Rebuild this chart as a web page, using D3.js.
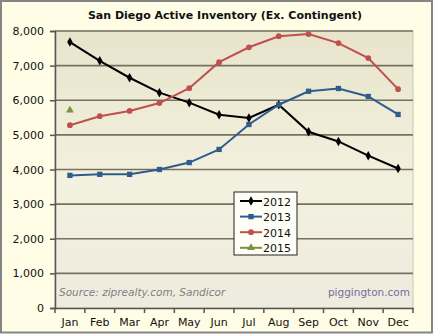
<!DOCTYPE html>
<html>
<head>
<meta charset="utf-8">
<script src="https://cdn.jsdelivr.net/npm/d3@7"></script>
<style>
  body { margin: 0; background: #fff; }
  svg { display: block; font-family: "DejaVu Sans", Verdana, sans-serif; }
</style>
</head>
<body>
<svg id="chart" width="433" height="334"></svg>
<script>
const months = ["Jan", "Feb", "Mar", "Apr", "May", "Jun", "Jul", "Aug", "Sep", "Oct", "Nov", "Dec"];
const yTicks = [0, 1000, 2000, 3000, 4000, 5000, 6000, 7000, 8000];

const inv2012 = [7680, 7140, 6650, 6220, 5930, 5580, 5490, 5870, 5090, 4810, 4400, 4030];
const inv2013 = [3830, 3860, 3860, 4000, 4200, 4580, 5300, 5870, 6260, 6340, 6110, 5590];
const inv2014 = [5280, 5540, 5690, 5920, 6350, 7100, 7530, 7850, 7910, 7650, 7220, 6320];
const inv2015 = [5710];

const series = [
    { name: "2012", values: inv2012, color: "#000000", marker: d3.symbolDiamond, size: 26 },
    { name: "2013", values: inv2013, color: "#2f5b8e", marker: d3.symbolSquare, size: 28 },
    { name: "2014", values: inv2014, color: "#c0504d", marker: d3.symbolCircle, size: 26 },
    { name: "2015", values: inv2015, color: "#77933c", marker: d3.symbolTriangle, size: 26 }
];

const W = 433, H = 334;
const margin = { left: 55, right: 20, top: 31, bottom: 26 };
const svg = d3.select("#chart");

// outer background + frame
svg.append("rect").attr("x", 1).attr("y", 1).attr("width", W - 2).attr("height", H - 2.5)
    .attr("fill", "#fffde6").attr("stroke", "#858585").attr("stroke-width", 2);

const x = d3.scaleBand().domain(months).range([margin.left, W - margin.right]);
const y = d3.scaleLinear().domain([0, 8000]).range([H - margin.bottom, margin.top]);

// plot background gradient
const defs = svg.append("defs");
const grad = defs.append("linearGradient").attr("id", "plotbg")
    .attr("x1", "0%").attr("x2", "0%").attr("y1", "0%").attr("y2", "100%");
grad.append("stop").attr("offset", "0%").attr("stop-color", "#e8e4cc");
grad.append("stop").attr("offset", "55%").attr("stop-color", "#f3f1df");
grad.append("stop").attr("offset", "100%").attr("stop-color", "#eeebdf");

svg.append("rect")
    .attr("x", margin.left).attr("y", y(8000))
    .attr("width", x.range()[1] - margin.left).attr("height", y(0) - y(8000))
    .attr("fill", "url(#plotbg)")
    .attr("stroke", "#c9c6b8").attr("stroke-width", 1);

// gridlines
svg.append("g").selectAll("line").data(yTicks.filter(d => d > 0)).join("line")
    .attr("x1", margin.left).attr("x2", x.range()[1])
    .attr("y1", d => y(d)).attr("y2", d => y(d))
    .attr("stroke", "#77705f").attr("stroke-width", 1.6);

// y axis
const yAxis = svg.append("g").attr("transform", `translate(${margin.left},0)`)
    .call(d3.axisLeft(y).tickValues(yTicks).tickFormat(d3.format(",")).tickSize(5).tickPadding(6));
yAxis.select(".domain").attr("stroke", "#555").attr("stroke-width", 1.5);
yAxis.selectAll(".tick line").attr("stroke", "#555").attr("stroke-width", 1.5);
yAxis.selectAll("text").attr("font-size", 11).attr("fill", "#111")
    .attr("font-family", "DejaVu Sans, Verdana, sans-serif");

// x axis
const xAxis = svg.append("g").attr("transform", `translate(0,${y(0)})`)
    .call(d3.axisBottom(x).tickSize(0).tickPadding(10));
xAxis.select(".domain").attr("stroke", "#555").attr("stroke-width", 1.5);
xAxis.selectAll("text").attr("font-size", 11).attr("fill", "#111")
    .attr("font-family", "DejaVu Sans, Verdana, sans-serif");
// category boundary ticks
svg.append("g").selectAll("line").data(months.concat(["end"])).join("line")
    .attr("x1", (d, i) => margin.left + i * x.step())
    .attr("x2", (d, i) => margin.left + i * x.step())
    .attr("y1", y(0)).attr("y2", y(0) + 5)
    .attr("stroke", "#555").attr("stroke-width", 1.5);

// title
svg.append("text").attr("x", 225).attr("y", 19).attr("text-anchor", "middle")
    .attr("font-size", 11).attr("font-weight", "bold").attr("fill", "#111")
    .text("San Diego Active Inventory (Ex. Contingent)");

// source notes
svg.append("text").attr("x", 59).attr("y", 296)
    .attr("font-size", 10.5).attr("font-style", "italic").attr("fill", "#7f7f7f")
    .text("Source: ziprealty.com, Sandicor");
svg.append("text").attr("x", 410).attr("y", 296).attr("text-anchor", "end")
    .attr("font-size", 10.5).attr("fill", "#6f6f9a")
    .text("piggington.com");

// lines + markers
const line = d3.line().x((d, i) => x(months[i]) + x.bandwidth() / 2).y(d => y(d));
series.forEach(s => {
    svg.append("path").datum(s.values)
        .attr("d", line).attr("fill", "none")
        .attr("stroke", s.color).attr("stroke-width", 2);
    svg.append("g").selectAll("path").data(s.values).join("path")
        .attr("transform", (d, i) => `translate(${x(months[i]) + x.bandwidth() / 2},${y(d)})`)
        .attr("d", d3.symbol().type(s.marker).size(s.size))
        .attr("fill", s.color);
});

// legend
const lg = svg.append("g").attr("transform", "translate(234,192)");
lg.append("rect").attr("width", 63).attr("height", 63)
    .attr("fill", "#fffef6").attr("stroke", "#222").attr("stroke-width", 1);
series.forEach((s, i) => {
    const yy = 9 + i * 15.6;
    lg.append("line").attr("x1", 6).attr("x2", 28).attr("y1", yy).attr("y2", yy)
        .attr("stroke", s.color).attr("stroke-width", 2);
    lg.append("path").attr("transform", `translate(17,${yy})`)
        .attr("d", d3.symbol().type(s.marker).size(s.size)).attr("fill", s.color);
    lg.append("text").attr("x", 29).attr("y", yy + 4.5)
        .attr("font-size", 11).attr("fill", "#111").text(s.name);
});
</script>
</body>
</html>
